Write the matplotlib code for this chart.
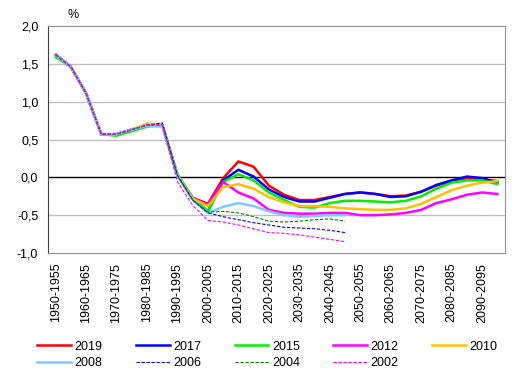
import numpy as np
import matplotlib
matplotlib.use('Agg')
import matplotlib.pyplot as plt

plt.rcParams['font.family'] = ['Liberation Sans', 'DejaVu Sans']

periods = ['1950-1955', '1955-1960', '1960-1965', '1965-1970', '1970-1975',
           '1975-1980', '1980-1985', '1985-1990', '1990-1995', '1995-2000',
           '2000-2005', '2005-2010', '2010-2015', '2015-2020', '2020-2025',
           '2025-2030', '2030-2035', '2035-2040', '2040-2045', '2045-2050',
           '2050-2055', '2055-2060', '2060-2065', '2065-2070', '2070-2075',
           '2075-2080', '2080-2085', '2085-2090', '2090-2095', '2095-2100']

# population growth, % per year, by projection
v2019 = [1.62, 1.46, 1.11, 0.57, 0.57, 0.63, 0.69, 0.69, 0.03, -0.27,
         -0.35, -0.01, 0.21, 0.14, -0.11, -0.23, -0.30, -0.30, -0.26, -0.22,
         -0.20, -0.22, -0.25, -0.24, -0.19, -0.11, -0.05, -0.01, -0.03, -0.05]
v2017 = [1.62, 1.46, 1.11, 0.57, 0.57, 0.63, 0.69, 0.69, 0.03, -0.28,
         -0.45, -0.04, 0.10, 0.01, -0.16, -0.26, -0.32, -0.32, -0.27, -0.22,
         -0.20, -0.22, -0.26, -0.25, -0.19, -0.10, -0.04, 0.01, -0.01, -0.07]
v2015 = [1.59, 1.46, 1.11, 0.57, 0.55, 0.61, 0.67, 0.69, 0.04, -0.27,
         -0.45, -0.06, 0.04, -0.04, -0.20, -0.30, -0.39, -0.40, -0.34, -0.31,
         -0.31, -0.32, -0.33, -0.31, -0.25, -0.15, -0.07, -0.04, -0.04, -0.09]
v2012 = [1.62, 1.46, 1.11, 0.57, 0.57, 0.63, 0.69, 0.69, 0.02, -0.28,
         -0.36, -0.06, -0.20, -0.28, -0.43, -0.47, -0.48, -0.48, -0.47, -0.47,
         -0.50, -0.50, -0.49, -0.47, -0.43, -0.34, -0.29, -0.23, -0.20, -0.22]
v2010 = [1.62, 1.46, 1.11, 0.57, 0.57, 0.63, 0.71, 0.69, 0.03, -0.28,
         -0.38, -0.13, -0.09, -0.15, -0.26, -0.33, -0.38, -0.38, -0.39, -0.41,
         -0.42, -0.43, -0.43, -0.41, -0.35, -0.26, -0.17, -0.11, -0.07, -0.05]
v2008 = [1.62, 1.46, 1.11, 0.57, 0.57, 0.63, 0.68, 0.67, 0.02, -0.30,
         -0.47, -0.39, -0.34, -0.38, -0.45, -0.50, -0.52, -0.51, -0.50, -0.50]
v2006 = [1.62, 1.46, 1.11, 0.57, 0.57, 0.63, 0.69, 0.72, 0.03, -0.30,
         -0.47, -0.52, -0.56, -0.60, -0.63, -0.66, -0.67, -0.68, -0.70, -0.73]
v2004 = [1.62, 1.46, 1.11, 0.57, 0.57, 0.63, 0.69, 0.69, 0.02, -0.30,
         -0.46, -0.45, -0.47, -0.52, -0.58, -0.59, -0.58, -0.56, -0.55, -0.58]
v2002 = [1.63, 1.46, 1.11, 0.57, 0.57, 0.63, 0.69, 0.70, -0.06, -0.37,
         -0.57, -0.59, -0.63, -0.68, -0.73, -0.74, -0.76, -0.79, -0.82, -0.85]

series = [
    ('2019', v2019, '#FF0000', '-', 1.8),
    ('2017', v2017, '#0000FF', '-', 1.8),
    ('2015', v2015, '#00EE00', '-', 1.8),
    ('2012', v2012, '#FF00FF', '-', 1.8),
    ('2010', v2010, '#FFC000', '-', 1.8),
    ('2008', v2008, '#80C8FF', '-', 1.8),
    ('2006', v2006, '#0000FF', '--', 0.8),
    ('2004', v2004, '#008000', '--', 0.8),
    ('2002', v2002, '#FF00FF', '--', 0.8),
]

fig = plt.figure(figsize=(5.18, 3.76), dpi=100)
ax = fig.add_axes([48 / 518, 1 - 253 / 376, 457 / 518, 227 / 376])

handles = {}
for name, vals, col, ls, lw in series:
    x = np.arange(len(vals))
    line, = ax.plot(x, vals, color=col, lw=lw, label=name,
                    linestyle=ls, dashes=(3, 1.5) if ls == '--' else (None, None))
    handles[name] = line

ax.axhline(0, color='black', lw=1.0, zorder=1)
for yv in [-0.5, 0.5, 1.0, 1.5]:
    ax.axhline(yv, color='#C0C0C0', lw=1.0, zorder=0)

ax.set_xlim(-0.5, 29.5)
ax.set_ylim(-1.0, 2.0)
ax.set_yticks([-1.0, -0.5, 0.0, 0.5, 1.0, 1.5, 2.0])
ax.set_yticklabels(['-1,0', '-0,5', '0,0', '0,5', '1,0', '1,5', '2,0'], fontsize=9)
ax.set_xticks(range(0, 30, 2))
ax.set_xticklabels(periods[::2], rotation=90, fontsize=9)
ax.tick_params(axis='both', length=0)
ax.tick_params(axis='y', pad=7)
ax.tick_params(axis='x', pad=7)

for side in ['top', 'right', 'bottom']:
    ax.spines[side].set_color('#909090')
ax.spines['left'].set_color('#404040')

fig.text(73 / 518, 1 - 15 / 376, '%', ha='center', va='center', fontsize=9)

order = ['2019', '2008', '2017', '2006', '2015', '2004', '2012', '2002', '2010']
fig.legend([handles[k] for k in order], order, ncol=5, loc='center',
           bbox_to_anchor=(0.516, 0.056), frameon=False, fontsize=9,
           handlelength=2.7, handletextpad=0.3, columnspacing=2.65,
           labelspacing=0.35)

fig.savefig('out.png', dpi=100)
